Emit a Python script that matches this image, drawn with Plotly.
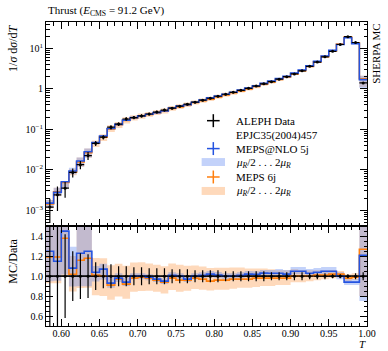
import numpy as np
import plotly.graph_objects as go

# ---------------- data ----------------
bin_edges = [0.58, 0.59, 0.60, 0.61, 0.62, 0.63, 0.64, 0.65, 0.66, 0.67, 0.68,
             0.69, 0.70, 0.71, 0.72, 0.73, 0.74, 0.75, 0.76, 0.77, 0.78, 0.79,
             0.80, 0.81, 0.82, 0.83, 0.84, 0.85, 0.86, 0.87, 0.88, 0.89, 0.90,
             0.91, 0.92, 0.93, 0.94, 0.95, 0.96, 0.97, 0.98, 0.99, 1.00]

data_vals = [0.0012, 0.0024, 0.0035, 0.0086, 0.0134, 0.0224, 0.045, 0.064, 0.113, 0.135,
             0.18, 0.195, 0.215, 0.239, 0.267, 0.299, 0.334, 0.374, 0.419, 0.469,
             0.525, 0.587, 0.658, 0.736, 0.824, 0.92, 1.03, 1.17, 1.33, 1.51,
             1.74, 2.0, 2.34, 2.8, 3.6, 4.6, 6.2, 8.5, 12.5, 19.5, 14.0, 1.4]

data_relerr = [0.6, 0.6, 0.42, 0.25, 0.23, 0.22, 0.14, 0.12, 0.12, 0.1,
               0.1, 0.09, 0.09, 0.08, 0.08, 0.08, 0.07, 0.07, 0.07, 0.06,
               0.06, 0.06, 0.06, 0.05, 0.05, 0.05, 0.05, 0.05, 0.05, 0.04,
               0.04, 0.04, 0.04, 0.04, 0.03, 0.03, 0.03, 0.02, 0.02, 0.02, 0.03, 0.04]

nlo_vals = [0.0015, 0.00276, 0.00508, 0.00929, 0.01648, 0.028, 0.0468, 0.0685, 0.1051, 0.1323,
            0.1692, 0.195, 0.215, 0.2366, 0.259, 0.284, 0.3373, 0.374, 0.4064, 0.469,
            0.530, 0.599, 0.665, 0.736, 0.824, 0.929, 1.051, 1.193, 1.370, 1.555,
            1.792, 2.04, 2.457, 2.94, 3.708, 4.784, 6.51, 8.925, 12.5, 18.33, 13.16, 1.694]

lo_vals = [0.00143, 0.00286, 0.00483, 0.00877, 0.01554, 0.02643, 0.04545, 0.064, 0.1028, 0.1310,
           0.1656, 0.1911, 0.2129, 0.2342, 0.2563, 0.2811, 0.3273, 0.3590, 0.4022, 0.4596,
           0.5093, 0.5577, 0.6317, 0.7066, 0.7993, 0.8924, 0.9991, 1.1466, 1.3034, 1.4798,
           1.7052, 1.96, 2.34, 2.80, 3.60, 4.646, 6.262, 8.67, 12.75, 19.11, 13.86, 1.778]

# scale-variation envelopes (multiplicative factors on central MC)
nlo_var_dn = [0.76, 0.83, 0.7, 0.83, 0.73, 0.72, 0.91, 0.9, 0.95, 0.96,
              0.96, 0.97, 0.97, 0.97, 0.97, 0.97, 0.97, 0.97, 0.97, 0.97,
              0.97, 0.97, 0.97, 0.97, 0.97, 0.97, 0.97, 0.97, 0.97, 0.97,
              0.97, 0.97, 0.97, 0.97, 0.97, 0.97, 0.97, 0.97, 0.97, 0.97, 0.97, 0.62]
nlo_var_up = [1.2, 1.3, 1.03, 1.2, 1.22, 1.2, 1.06, 1.05, 1.07, 1.05,
              1.05, 1.03, 1.03, 1.03, 1.03, 1.03, 1.03, 1.03, 1.03, 1.03,
              1.03, 1.03, 1.03, 1.03, 1.03, 1.03, 1.03, 1.03, 1.03, 1.03,
              1.04, 1.04, 1.04, 1.04, 1.04, 1.04, 1.04, 1.04, 1.04, 1.03, 1.03, 1.24]
lo_var_dn = [0.78, 0.78, 0.72, 0.83, 0.76, 0.75, 0.8, 0.8, 0.84, 0.82,
             0.84, 0.86, 0.86, 0.87, 0.88, 0.88, 0.88, 0.88, 0.89, 0.89,
             0.89, 0.9, 0.9, 0.9, 0.9, 0.91, 0.91, 0.91, 0.92, 0.92,
             0.93, 0.93, 0.94, 0.94, 0.95, 0.95, 0.96, 0.96, 0.97, 0.97, 0.97, 0.63]
lo_var_up = [1.26, 1.26, 1.1, 1.18, 1.3, 1.27, 1.17, 1.18, 1.22, 1.16,
             1.2, 1.16, 1.15, 1.15, 1.16, 1.17, 1.15, 1.16, 1.15, 1.13,
             1.13, 1.14, 1.13, 1.13, 1.12, 1.12, 1.11, 1.1, 1.1, 1.09,
             1.08, 1.08, 1.07, 1.06, 1.06, 1.05, 1.05, 1.04, 1.03, 1.04, 1.04, 1.18]

x_major = [0.60, 0.65, 0.70, 0.75, 0.80, 0.85, 0.90, 0.95, 1.00]
x_major_text = ["0.60", "0.65", "0.70", "0.75", "0.80", "0.85", "0.90", "0.95", "1.00"]
ry_major = [0.6, 0.8, 1.0, 1.2, 1.4]
ry_major_text = ["0.6", "0.8", "1.0", "1.2", "1.4"]
my_major = [1e-3, 1e-2, 1e-1, 1, 10]
my_major_text = ["10<sup>−3</sup>", "10<sup>−2</sup>", "10<sup>−1</sup>", "1", "10<sup>1</sup>"]

# ---------------- styling ----------------
FONT = "Liberation Serif"
BLUE = "#2453e0"
ORANGE = "#ff7f0e"
BLUE_BAND = "rgba(90,130,240,0.36)"
ORANGE_BAND = "rgba(253,180,120,0.5)"
W, H = 388, 351
L, R, T, B = 46, 12, 22, 24
SPLIT = 100.0 / 305.0

edges = np.array(bin_edges)
centers = 0.5 * (edges[:-1] + edges[1:])
halfw = 0.5 * (edges[1:] - edges[:-1])
d = np.array(data_vals)
derr = np.array(data_relerr)
nlo = np.array(nlo_vals)
lo = np.array(lo_vals)


def st(v):
    v = list(v)
    return v + [v[-1]]


fig = go.Figure()


def add_band(lower, upper, color, xa, ya):
    fig.add_trace(go.Scatter(x=edges, y=st(lower), mode="lines", line=dict(width=0, shape="hv"),
                             xaxis=xa, yaxis=ya, showlegend=False, hoverinfo="skip"))
    fig.add_trace(go.Scatter(x=edges, y=st(upper), mode="lines", line=dict(width=0, shape="hv"),
                             fill="tonexty", fillcolor=color, xaxis=xa, yaxis=ya,
                             showlegend=False, hoverinfo="skip"))


# main panel
add_band(lo * np.array(lo_var_dn), lo * np.array(lo_var_up), ORANGE_BAND, "x2", "y2")
add_band(nlo * np.array(nlo_var_dn), nlo * np.array(nlo_var_up), BLUE_BAND, "x2", "y2")
fig.add_trace(go.Scatter(x=edges, y=st(lo), mode="lines", line=dict(color=ORANGE, width=1.6, shape="hv"),
                         xaxis="x2", yaxis="y2", showlegend=False))
fig.add_trace(go.Scatter(x=edges, y=st(nlo), mode="lines", line=dict(color=BLUE, width=1.6, shape="hv"),
                         xaxis="x2", yaxis="y2", showlegend=False))
fig.add_trace(go.Scatter(x=centers, y=d, mode="markers",
                         marker=dict(color="black", size=3),
                         error_y=dict(type="data", array=d * derr, color="black", thickness=1.2, width=0),
                         error_x=dict(type="data", array=halfw, color="black", thickness=1.2, width=0),
                         xaxis="x2", yaxis="y2", showlegend=False))

# ratio panel
add_band(lo * np.array(lo_var_dn) / d, lo * np.array(lo_var_up) / d, ORANGE_BAND, "x", "y")
add_band(nlo * np.array(nlo_var_dn) / d, nlo * np.array(nlo_var_up) / d, BLUE_BAND, "x", "y")
fig.add_trace(go.Scatter(x=edges, y=st(d / d), mode="lines", line=dict(color="black", width=1.2, shape="hv"),
                         xaxis="x", yaxis="y", showlegend=False))
fig.add_trace(go.Scatter(x=edges, y=st(lo / d), mode="lines", line=dict(color=ORANGE, width=1.6, shape="hv"),
                         xaxis="x", yaxis="y", showlegend=False))
fig.add_trace(go.Scatter(x=edges, y=st(nlo / d), mode="lines", line=dict(color=BLUE, width=1.6, shape="hv"),
                         xaxis="x", yaxis="y", showlegend=False))
fig.add_trace(go.Scatter(x=centers, y=d / d, mode="markers",
                         marker=dict(color="black", size=3),
                         error_y=dict(type="data", array=derr, color="black", thickness=1.2, width=0),
                         error_x=dict(type="data", array=halfw, color="black", thickness=1.2, width=0),
                         xaxis="x", yaxis="y", showlegend=False))

# minor tick positions
x_minor = [e for e in bin_edges if round(e * 100) % 5 != 0]
ry_minor = [0.55, 0.65, 0.7, 0.75, 0.85, 0.9, 0.95, 1.05, 1.1, 1.15, 1.25, 1.3, 1.35, 1.45]
my_minor = [m * 10.0 ** k for k in range(-4, 2) for m in range(2, 10)]

axis_common = dict(showline=True, linecolor="black", linewidth=1, mirror="allticks",
                   ticks="inside", tickcolor="black", tickwidth=1, showgrid=False, zeroline=False,
                   tickfont=dict(family=FONT, size=10, color="black"))

fig.update_layout(
    width=W, height=H,
    margin=dict(l=L, r=R, t=T, b=B),
    paper_bgcolor="white", plot_bgcolor="white",
    showlegend=False,
    font=dict(family=FONT, color="black"),
    xaxis=dict(domain=[0, 1], anchor="y", range=[0.58, 1.0], tickmode="array",
               tickvals=x_major, ticktext=x_major_text, ticklen=7, ticklabelstandoff=-2,
               minor=dict(tickmode="array", tickvals=x_minor, ticks="inside", ticklen=3.5,
                          tickcolor="black", showgrid=False),
               **axis_common),
    xaxis2=dict(domain=[0, 1], anchor="y2", matches="x", range=[0.58, 1.0], tickmode="array",
                tickvals=x_major, showticklabels=False, ticklen=7,
                minor=dict(tickmode="array", tickvals=x_minor, ticks="inside", ticklen=3.5,
                           tickcolor="black", showgrid=False),
                **axis_common),
    yaxis=dict(domain=[0, SPLIT], anchor="x", range=[0.5, 1.5], tickmode="array",
               tickvals=ry_major, ticktext=ry_major_text, ticklen=7,
               minor=dict(tickmode="array", tickvals=ry_minor, ticks="inside", ticklen=3.5,
                          tickcolor="black", showgrid=False),
               **axis_common),
    yaxis2=dict(domain=[SPLIT, 1], anchor="x2", type="log", range=[np.log10(4e-4), np.log10(45)],
                tickmode="array", tickvals=my_major, ticktext=my_major_text, ticklen=7,
                minor=dict(tickmode="array", tickvals=my_minor, ticks="inside", ticklen=3.5,
                           tickcolor="black", showgrid=False),
                **axis_common),
)

PW, PH = W - L - R, H - T - B


def px(x, y):
    return (x - L) / PW, (H - B - y) / PH


def ann(text, x, y, size=11, xanchor="left", yanchor="middle", angle=0):
    ax, ay = px(x, y)
    fig.add_annotation(text=text, x=ax, y=ay, xref="paper", yref="paper", showarrow=False,
                       xanchor=xanchor, yanchor=yanchor, textangle=angle,
                       font=dict(family=FONT, size=size, color="black"))


ann("Thrust (<i>E</i><sub>CMS</sub> = 91.2 GeV)", 46, 11, size=11)
ann("1/<i>σ</i> d<i>σ</i>/d<i>T</i>", 12, 22, size=12, xanchor="center", yanchor="top", angle=-90)
ann("MC/Data", 12, 237, size=12, xanchor="center", yanchor="top", angle=-90)
ann("<i>T</i>", 377, 345, size=11, xanchor="right")
ann("SHERPA MC", 385, 22, size=11, xanchor="center", yanchor="top", angle=-90)

# legend
leg_rows = [("ALEPH Data", 121), ("EPJC35(2004)457", 135.5), ("MEPS@NLO 5j", 149),
            ("<i>μ</i><sub><i>R</i></sub>/2 . . . 2<i>μ</i><sub><i>R</i></sub>", 163.5),
            ("MEPS 6j", 177.5),
            ("<i>μ</i><sub><i>R</i></sub>/2 . . . 2<i>μ</i><sub><i>R</i></sub>", 192)]
for txt, yy in leg_rows:
    ann(txt, 239, yy, size=11)

for col, yy in [("black", 121), (BLUE, 149), (ORANGE, 177.5)]:
    x0, y0 = px(211.5, yy)
    x1, _ = px(224.5, yy)
    fig.add_shape(type="line", xref="paper", yref="paper", x0=x0, x1=x1, y0=y0, y1=y0,
                  line=dict(color=col, width=1.5))
    xa, ya0 = px(218, yy - 6.5)
    _, ya1 = px(218, yy + 6.5)
    fig.add_shape(type="line", xref="paper", yref="paper", x0=xa, x1=xa, y0=ya0, y1=ya1,
                  line=dict(color=col, width=1.5))

for col, yy in [(BLUE_BAND, 162.5), (ORANGE_BAND, 191.5)]:
    x0, y0 = px(206, yy - 4)
    x1, y1 = px(230, yy + 4)
    fig.add_shape(type="rect", xref="paper", yref="paper", x0=x0, x1=x1, y0=y0, y1=y1,
                  fillcolor=col, line=dict(width=0))

fig.write_html("out.html", config={"displayModeBar": False},
               post_script="document.body.style.margin='0';")
